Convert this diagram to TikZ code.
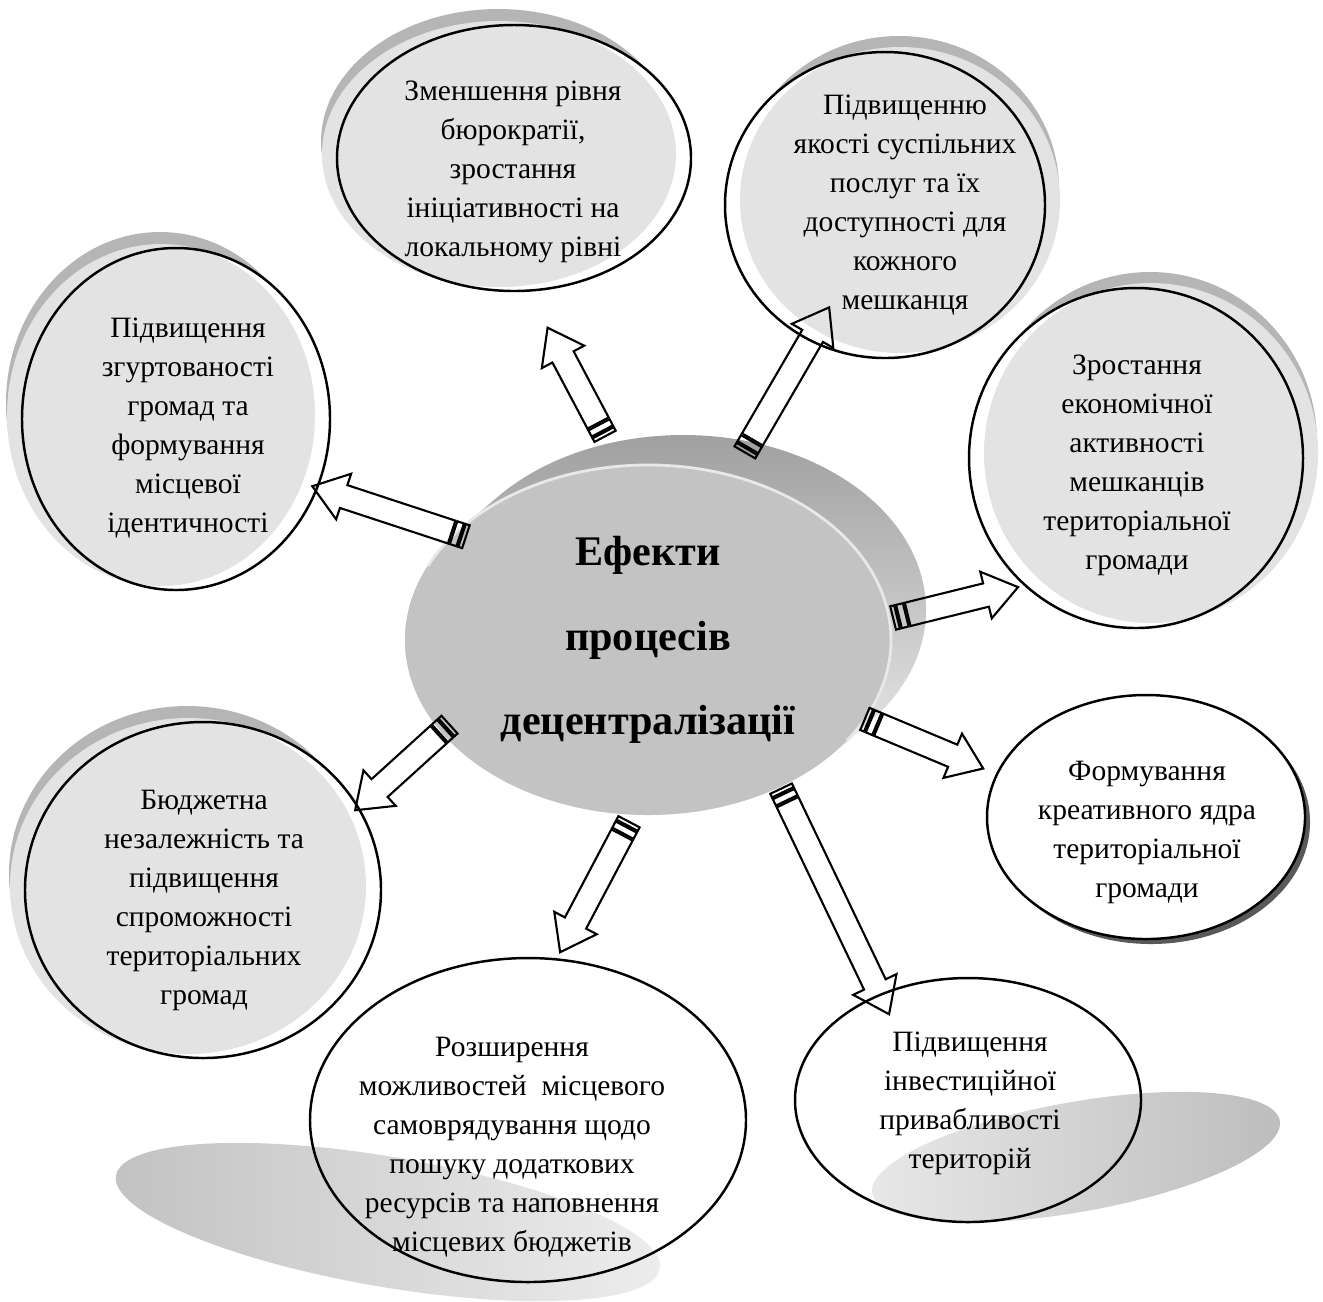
\documentclass[tikz,border=0pt]{standalone}
\usepackage{fontspec}
\setmainfont{Liberation Serif}
\usetikzlibrary{shapes.geometric, shadows, calc}

\tikzset{
  goal/.style={ellipse, draw, line width=0.7pt, inner sep=0pt, outer sep=0pt},
  goaltext/.style={align=center, font=\fontsize{8.4}{11.1}\selectfont},
  shadeleft/.style={general shadow={fill=gray!58, shadow xshift=-0.16cm, shadow yshift=0.16cm},
    general shadow={fill=white},
    general shadow={fill=gray!22, shadow xshift=-0.15cm, shadow yshift=0.04cm}},
  shaderight/.style={general shadow={fill=gray!58, shadow xshift=0.14cm, shadow yshift=0.16cm},
    general shadow={fill=white},
    general shadow={fill=gray!22, shadow xshift=0.15cm, shadow yshift=0.05cm}},
  arrowline/.style={line width=0.6pt, line join=miter},
  sarrow/.pic={
    \draw[arrowline] (0cm,-0.12cm) rectangle (0.04cm,0.12cm)
      (0.06cm,-0.12cm) rectangle (0.13cm,0.12cm);
    \draw[arrowline] (0.15cm,-0.12cm) -- ({#1-0.33cm},-0.12cm) -- ({#1-0.33cm},-0.24cm)
      -- ({#1},0cm) -- ({#1-0.33cm},0.24cm) -- ({#1-0.33cm},0.12cm) -- (0.15cm,0.12cm) -- cycle;
  }
}

% striped block arrow: from, to, gap at tail, gap at tip
\newcommand{\stripedarrow}[4]{%
  \path let \p1=#1, \p2=#2,
    \n1={atan2(\y2-\y1,\x2-\x1)}, \n2={veclen(\x2-\x1,\y2-\y1)},
    \p3=($(\p1)+(\n1:#3)$) in
    (\p3) pic[rotate=\n1] {sarrow={\n2-(#3)-(#4)}};
}

\begin{document}
\begin{tikzpicture}
\useasboundingbox (0,0) rectangle (13.23,-13.01);

% flat shadows under the two lower ellipses
\shade[shift={(3.88,-12.22)}, rotate=-9.7, left color=gray!48, right color=gray!14]
  (0,0) ellipse [x radius=2.76, y radius=0.65];
\shade[shift={(10.76,-11.57)}, rotate=10.1, left color=gray!18, right color=gray!52]
  (0,0) ellipse [x radius=2.07, y radius=0.55];

% effects
\node[goal, shadeleft, minimum width=3.54cm, minimum height=2.66cm] (bur) at (5.14,-1.58) {};
\node[goal, shaderight, minimum width=3.20cm, minimum height=3.06cm] (qual) at (8.85,-2.05) {};
\node[goal, shadeleft, minimum width=3.08cm, minimum height=3.42cm] (coh) at (1.76,-4.19) {};
\node[goal, shaderight, minimum width=3.34cm, minimum height=3.40cm] (econ) at (11.36,-4.58) {};
\node[goal, shadeleft, minimum width=3.56cm, minimum height=3.36cm] (budg) at (2.03,-8.90) {};
\node[goal, fill=white, general shadow={fill=black!65, shadow xshift=0.05cm, shadow yshift=-0.05cm},
  minimum width=3.18cm, minimum height=2.44cm] (creat) at (11.46,-8.17) {};
\node[goal, minimum width=4.36cm, minimum height=3.24cm] (res) at (5.28,-11.20) {};
\node[goal, minimum width=3.46cm, minimum height=2.44cm] (inv) at (9.68,-11.00) {};

% central disc
\node[ellipse, minimum width=4.86cm, minimum height=3.5cm, inner sep=0pt, outer sep=0pt] (coreback) at (6.83,-6.10) {};
\shade[top color=gray!78, middle color=gray!30, bottom color=gray!5]
  ($(coreback.center)+(-0.35,-0.30)+(140:2.43 and 1.75)$) -- ($(coreback.center)+(140:2.43 and 1.75)$)
  arc[start angle=140, end angle=-40, x radius=2.43cm, y radius=1.75cm]
  -- ($(coreback.center)+(-0.35,-0.30)+(-40:2.43 and 1.75)$)
  arc[start angle=-40, end angle=-220, x radius=2.43cm, y radius=1.75cm] -- cycle;
\node[ellipse, fill=gray!47, minimum width=4.86cm, minimum height=3.5cm,
  inner sep=0pt, outer sep=0pt, align=center, font=\fontsize{12}{24}\selectfont\bfseries] (core) at (6.48,-6.40)
  {Ефекти\\процесів\\децентралізації};
\draw[gray!18, line width=0.8pt] ($(core.center)+(155:2.43 and 1.75)$)
  arc[start angle=155, end angle=-35, x radius=2.43cm, y radius=1.75cm];

% texts
\node[goaltext] (bur-txt) at (5.13,-1.72) {Зменшення рівня\\бюрократії,\\зростання\\ініціативності на\\локальному рівні};
\node[goaltext] (qual-txt) at (9.05,-2.05) {Підвищенню\\якості суспільних\\послуг та їх\\доступності для\\кожного\\мешканця};
\node[goaltext] (coh-txt) at (1.88,-4.28) {Підвищення\\згуртованості\\громад та\\формування\\місцевої\\ідентичності};
\node[goaltext] (econ-txt) at (11.37,-4.65) {Зростання\\економічної\\активності\\мешканців\\територіальної\\громади};
\node[goaltext] (budg-txt) at (2.04,-9.00) {Бюджетна\\незалежність та\\підвищення\\спроможності\\територіальних\\громад};
\node[goaltext] (creat-txt) at (11.47,-8.32) {Формування\\креативного ядра\\територіальної\\громади};
\node[goaltext] (res-txt) at (5.12,-11.47) {Розширення\\можливостей\ \ місцевого\\самоврядування щодо\\пошуку додаткових\\ресурсів та наповнення\\місцевих бюджетів};
\node[goaltext] (inv-txt) at (9.70,-11.03) {Підвищення\\інвестиційної\\привабливості\\територій};

% arrows
\stripedarrow{(coreback.114.7)}{(bur.-84.6)}{0.08cm}{0.42cm}
\stripedarrow{(coreback.68.8)}{(qual.-119.6)}{-0.12cm}{-0.38cm}
\stripedarrow{(core.151.4)}{(coh.-26.3)}{-0.11cm}{-0.05cm}
\stripedarrow{(core.5)}{(econ.-131)}{0.04cm}{0.075cm}
\stripedarrow{(core.-20.3)}{(creat.164.2)}{0cm}{0.15cm}
\stripedarrow{(core.-48.9)}{(inv.130.6)}{0.02cm}{-0.215cm}
\stripedarrow{(core.-95.6)}{(res.80)}{0.08cm}{0.08cm}
\stripedarrow{(core.-156.8)}{(budg.28.6)}{-0.11cm}{-0.04cm}
\end{tikzpicture}
\end{document}
